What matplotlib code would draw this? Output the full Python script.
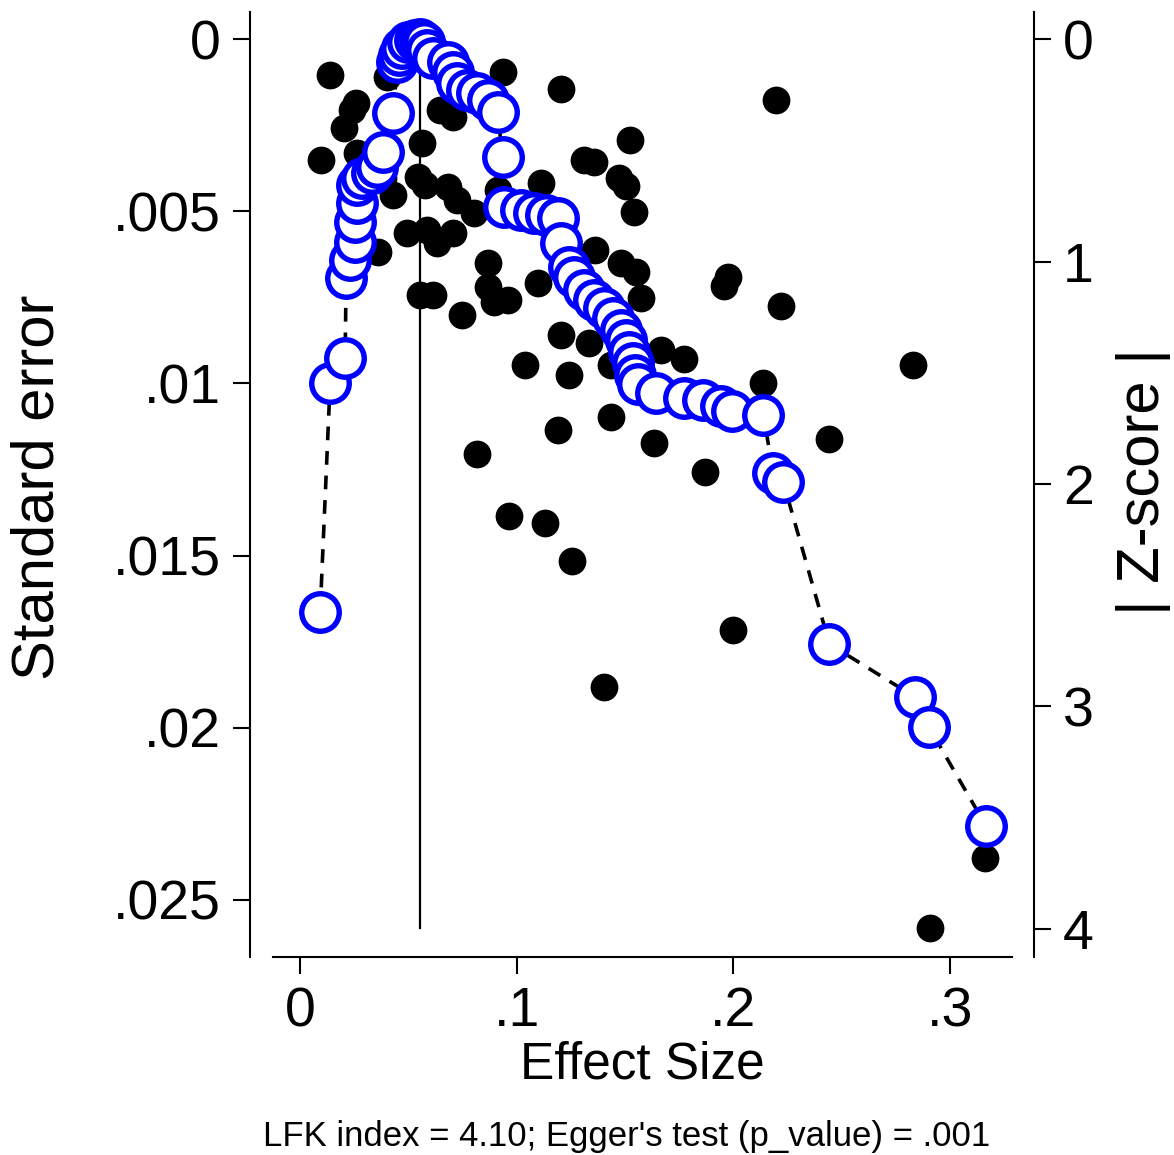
import matplotlib
matplotlib.use('Agg')
import matplotlib.pyplot as plt

plt.rcParams['font.family'] = ['Liberation Sans', 'DejaVu Sans']

# studies: effect size and standard error (funnel plot, black dots)
effect = [0.0139, 0.0935, 0.1204, 0.2199, 0.0259, 0.0241, 0.0403, 0.0097, 0.0204, 0.0264,
          0.1523, 0.1310, 0.1356, 0.1472, 0.1505, 0.1542, 0.1111, 0.0912, 0.0546, 0.0579,
          0.0681, 0.0727, 0.0801, 0.0431, 0.0361, 0.0495, 0.0588, 0.0634, 0.0708, 0.0870,
          0.0866, 0.0958, 0.0556, 0.0616, 0.0750, 0.1097, 0.1361, 0.1481, 0.1551, 0.1574,
          0.1977, 0.1958, 0.2222, 0.0894, 0.1204, 0.1333, 0.1037, 0.1241, 0.1435, 0.1667,
          0.1773, 0.1435, 0.1190, 0.2139, 0.1634, 0.2444, 0.1870, 0.0815, 0.0963, 0.1130,
          0.1255, 0.2000, 0.1403, 0.2829, 0.3162, 0.2907, 0.0648, 0.0708, 0.0384, 0.0565]
se = [0.00105, 0.00096, 0.00145, 0.00177, 0.00186, 0.00206, 0.00110, 0.00351, 0.00258, 0.00331,
      0.00293, 0.00351, 0.00357, 0.00404, 0.00427, 0.00502, 0.00418, 0.00439, 0.00401, 0.00424,
      0.00430, 0.00468, 0.00505, 0.00453, 0.00619, 0.00563, 0.00555, 0.00592, 0.00563, 0.00651,
      0.00720, 0.00758, 0.00743, 0.00743, 0.00802, 0.00709, 0.00613, 0.00651, 0.00677, 0.00752,
      0.00691, 0.00717, 0.00775, 0.00764, 0.00860, 0.00883, 0.00947, 0.00976, 0.00947, 0.00903,
      0.00929, 0.01098, 0.01135, 0.00999, 0.01173, 0.01162, 0.01257, 0.01205, 0.01385, 0.01406,
      0.01516, 0.01716, 0.01882, 0.00947, 0.02378, 0.02582, 0.00206, 0.00226, 0.00404, 0.00302]

# Doi plot: effect size vs |Z-score|
doi_effect = [0.0093, 0.0139, 0.0208, 0.0213, 0.0231, 0.0255, 0.0255, 0.0264, 0.0264, 0.0287,
              0.0333, 0.0356, 0.0384, 0.0431, 0.0449, 0.0458, 0.0472, 0.0500, 0.0532, 0.0556,
              0.0574, 0.0588, 0.0616, 0.0681, 0.0704, 0.0727, 0.0773, 0.0819, 0.0866, 0.0912,
              0.0935, 0.0940, 0.1019, 0.1079, 0.1134, 0.1190, 0.1204, 0.1241, 0.1264, 0.1310,
              0.1356, 0.1403, 0.1444, 0.1481, 0.1505, 0.1519, 0.1537, 0.1546, 0.1560, 0.1644,
              0.1773, 0.1861, 0.1944, 0.1995, 0.2139, 0.2185, 0.2231, 0.2444, 0.2838, 0.2903,
              0.3167]
doi_z = [2.575, 1.546, 1.434, 1.074, 0.993, 0.912, 0.822, 0.737, 0.656, 0.625,
         0.602, 0.575, 0.508, 0.333, 0.103, 0.072, 0.040, 0.013, 0.005, 0.000,
         0.013, 0.049, 0.085, 0.103, 0.148, 0.198, 0.229, 0.243, 0.274, 0.328,
         0.530, 0.755, 0.768, 0.782, 0.791, 0.804, 0.917, 1.025, 1.070, 1.128,
         1.173, 1.209, 1.254, 1.308, 1.353, 1.407, 1.456, 1.510, 1.550, 1.591,
         1.613, 1.622, 1.649, 1.672, 1.690, 1.950, 1.991, 2.719, 2.957, 3.092,
         3.537]

pooled_effect = 0.0556

x_ticks = [0, 0.1, 0.2, 0.3]
x_ticklabels = ['0', '.1', '.2', '.3']
se_ticks = [0, 0.005, 0.01, 0.015, 0.02, 0.025]
se_ticklabels = ['0', '.005', '.01', '.015', '.02', '.025']
z_ticks = [0, 1, 2, 3, 4]
z_ticklabels = ['0', '1', '2', '3', '4']

fig = plt.figure(figsize=(11.74, 11.55), dpi=100)
ax = fig.add_axes([0.2325, 0.1714, 0.6295, 0.8182])
ax2 = ax.twinx()

ax.set_xlim(-0.0125, 0.3287)
ax.set_ylim(0.02666, -0.000784)
ax2.set_ylim(4.126, -0.1213)

# funnel points + pooled effect line
ax.scatter(effect, se, s=400, c='black', linewidths=0, zorder=2)
ax.plot([pooled_effect, pooled_effect], [0, max(se)], color='black', lw=1.6, zorder=3)

# doi plot on the |Z| axis
ax2.plot(doi_effect, doi_z, color='black', lw=2.6, dashes=(3.8, 3.0), zorder=2)
ax2.plot(doi_effect, doi_z, ls='none', marker='o', ms=27, mfc='white', mec='#0000ff',
         mew=3.9, zorder=3)

for a in (ax, ax2):
    a.spines['top'].set_visible(False)
    a.tick_params(direction='out', length=12, width=1.5, labelsize=40, pad=9)
ax.spines['right'].set_visible(False)
ax2.spines['left'].set_visible(False)
ax2.spines['bottom'].set_visible(False)
ax.spines['left'].set_position(('outward', 16.6))
ax2.spines['right'].set_position(('outward', 15.8))
for s in ('left', 'bottom'):
    ax.spines[s].set_linewidth(1.5)
ax2.spines['right'].set_linewidth(1.5)

ax.set_xticks(x_ticks)
ax.set_xticklabels(x_ticklabels)
ax.set_yticks(se_ticks)
ax.set_yticklabels(se_ticklabels)
ax2.set_yticks(z_ticks)
ax2.set_yticklabels(z_ticklabels)

fig.text(0.0324, 0.5784, 'Standard error', rotation=90, ha='center', va='center', fontsize=43)
fig.text(0.9736, 0.5827, '| Z-score |', rotation=90, ha='center', va='center', fontsize=43)
fig.text(0.5468, 0.0779, 'Effect Size', ha='center', va='center', fontsize=37)
fig.text(0.534, 0.0156, "LFK index = 4.10; Egger's test (p_value) = .001",
         ha='center', va='center', fontsize=25)

fig.savefig('out.png', dpi=100)
